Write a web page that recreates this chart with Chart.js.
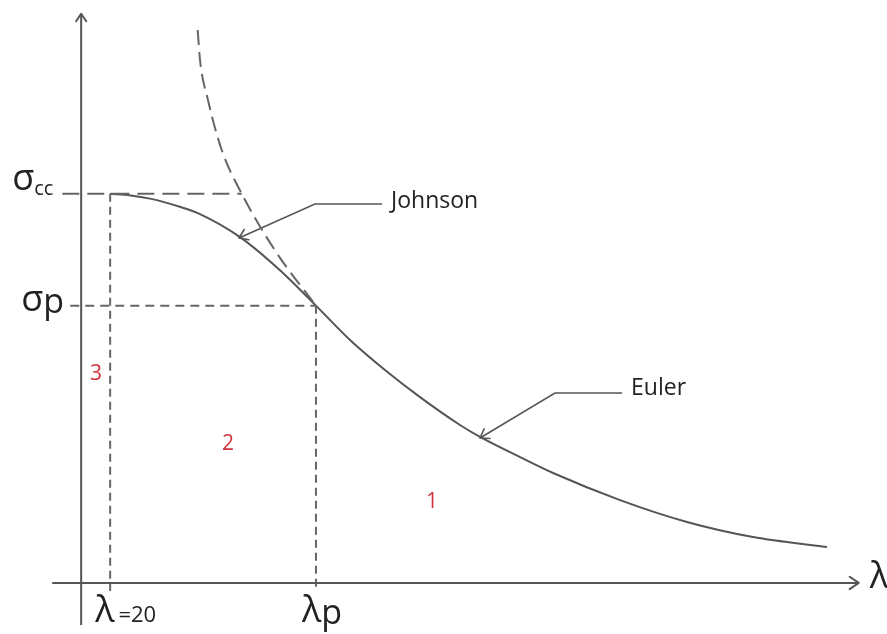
<!DOCTYPE html>
<html>
<head>
<meta charset="utf-8">
<script src="https://cdn.jsdelivr.net/npm/chart.js@4/dist/chart.umd.min.js"></script>
<style>
  html, body { margin: 0; padding: 0; background: #fff; }
  #wrap { width: 887px; height: 634px; }
</style>
</head>
<body>
<div id="wrap"><canvas id="c"></canvas></div>
<script>
// values: x = slenderness λ, y = stress σ
const sigmaCC = 240;
const sigmaP = 171;
const lambda20 = 20;
const lambdaP = 162;

// Johnson parabola (solid), λ20 -> λp
const johnsonLambda = [20, 34, 47.5, 68, 82, 109.6, 137, 162];
const johnsonSigma = [240, 239, 237, 232, 227.5, 213.3, 193, 171];

// Euler hyperbola (solid), λp -> end
const eulerLambda = [162, 185.5, 209.6, 233.8, 261.4, 275.2, 302.8, 325.6, 371.8, 418, 463.6, 514.6];
const eulerSigma = [171, 149.8, 131.3, 114.6, 97.4, 90, 77.6, 67.8, 51.1, 37.6, 28.3, 22.1];

// Euler curve continued above σp (dashed)
const eulerExtLambda = [80.4, 82, 87.5, 97, 110.8, 134.9, 162];
const eulerExtSigma = [341, 322.5, 297.8, 267, 240, 203.5, 171];

// view window and axis extents
const xMin = -56, xMax = 556, yMin = -31.5, yMax = 359.5;
const xAxisFrom = -20, xAxisTo = 536.5;
const yAxisFrom = -26, yAxisTo = 351;

const ink = '#555555';
const dashInk = '#666666';
const textInk = '#222222';
const red = '#d0343c';
const FONT = '"Open Sans", "DejaVu Sans", sans-serif';

function pts(xs, ys) {
    return xs.map((x, i) => ({ x, y: ys[i] }));
}

// leader lines for the two curve names
const johnsonLeader = [{ x: 207.6, y: 233.7 }, { x: 161.3, y: 233.7 }, { x: 108.9, y: 212.7 }];
const eulerLeader = [{ x: 373.2, y: 117.1 }, { x: 326.9, y: 117.1 }, { x: 275.2, y: 89.4 }];

const ccEnd = eulerExtLambda[eulerExtSigma.indexOf(sigmaCC)];

function line(data, opts = {}) {
    return Object.assign({
        data,
        showLine: true,
        borderColor: ink,
        borderWidth: 2,
        pointRadius: 0,
        fill: false,
        tension: 0,
    }, opts);
}

const datasets = [
    // axes
    line([{ x: xAxisFrom, y: 0 }, { x: xAxisTo, y: 0 }]),
    line([{ x: 0, y: yAxisFrom }, { x: 0, y: yAxisTo }]),
    // reference lines
    line([{ x: -13, y: sigmaCC }, { x: ccEnd, y: sigmaCC }], { borderColor: dashInk, borderDash: [17, 8] }),
    line([{ x: -7.5, y: sigmaP }, { x: lambdaP, y: sigmaP }], { borderColor: dashInk, borderDash: [9, 6] }),
    line([{ x: lambda20, y: sigmaCC }, { x: lambda20, y: -5 }], { borderColor: dashInk, borderDash: [8, 5] }),
    line([{ x: lambdaP, y: sigmaP }, { x: lambdaP, y: -5 }], { borderColor: dashInk, borderDash: [8, 5] }),
    // curves
    line(pts(eulerExtLambda, eulerExtSigma), { borderColor: dashInk, borderDash: [15, 7], cubicInterpolationMode: 'monotone' }),
    line(pts(johnsonLambda, johnsonSigma).concat(pts(eulerLambda, eulerSigma).slice(1)), { cubicInterpolationMode: 'monotone' }),
    // leaders
    line(johnsonLeader, { borderWidth: 1.6 }),
    line(eulerLeader, { borderWidth: 1.6 }),
];

// arrowheads: tip and the point the shaft comes from
const arrows = [
    { tip: { x: xAxisTo, y: 0 }, from: { x: xAxisFrom, y: 0 }, size: 11, w: 2 },
    { tip: { x: 0, y: yAxisTo }, from: { x: 0, y: yAxisFrom }, size: 9, w: 2 },
    { tip: johnsonLeader[2], from: johnsonLeader[1], size: 10, w: 1.6 },
    { tip: eulerLeader[2], from: eulerLeader[1], size: 10, w: 1.6 },
];

// text pieces: anchor in data units, offset in pixels
const texts = [
    { at: { x: 0, y: sigmaCC }, dx: -69, dy: -4, runs: [{ t: 'σ', s: 36 }, { t: 'cc', s: 20, dy: 5 }] },
    { at: { x: 0, y: sigmaP }, dx: -60, dy: 5, runs: [{ t: 'σ', s: 36 }, { t: 'p', s: 34, dy: 2 }] },
    { at: { x: xAxisTo, y: 0 }, dx: 11, dy: 5, runs: [{ t: 'λ', s: 36 }] },
    { at: { x: lambda20, y: 0 }, dx: -15, dy: 39, runs: [{ t: 'λ', s: 36 }, { t: '=20', s: 22, gap: 4 }] },
    { at: { x: lambdaP, y: 0 }, dx: -14, dy: 39, runs: [{ t: 'λ', s: 36 }, { t: 'p', s: 34, dy: 2 }] },
    { at: johnsonLeader[0], dx: 9, dy: 4, runs: [{ t: 'Johnson', s: 23 }] },
    { at: eulerLeader[0], dx: 9, dy: 2, runs: [{ t: 'Euler', s: 23 }] },
];

const regions = [
    { t: '3', x: 10.2, y: 128.8 },
    { t: '2', x: 101.3, y: 85.6 },
    { t: '1', x: 242.1, y: 49.9 },
];

const sketchPlugin = {
    id: 'sketch',
    afterDatasetsDraw(chart) {
        const { ctx } = chart;
        const X = v => chart.scales.x.getPixelForValue(v);
        const Y = v => chart.scales.y.getPixelForValue(v);
        ctx.save();

        ctx.strokeStyle = ink;
        ctx.lineCap = 'round';
        ctx.lineJoin = 'round';
        arrows.forEach(a => {
            const tx = X(a.tip.x), ty = Y(a.tip.y);
            const ang = Math.atan2(ty - Y(a.from.y), tx - X(a.from.x));
            const spread = 0.6;
            ctx.lineWidth = a.w;
            ctx.beginPath();
            ctx.moveTo(tx - a.size * Math.cos(ang - spread), ty - a.size * Math.sin(ang - spread));
            ctx.lineTo(tx, ty);
            ctx.lineTo(tx - a.size * Math.cos(ang + spread), ty - a.size * Math.sin(ang + spread));
            ctx.stroke();
        });

        ctx.fillStyle = textInk;
        ctx.textBaseline = 'alphabetic';
        ctx.textAlign = 'left';
        texts.forEach(item => {
            let cx = X(item.at.x) + item.dx;
            const by = Y(item.at.y) + item.dy;
            item.runs.forEach(r => {
                ctx.font = `${r.s}px ${FONT}`;
                cx += r.gap || 0;
                ctx.fillText(r.t, cx, by + (r.dy || 0));
                cx += ctx.measureText(r.t).width;
            });
        });

        ctx.fillStyle = red;
        ctx.textAlign = 'center';
        ctx.textBaseline = 'middle';
        ctx.font = `21px ${FONT}`;
        regions.forEach(r => ctx.fillText(r.t, X(r.x), Y(r.y)));

        ctx.restore();
    }
};

new Chart(document.getElementById('c'), {
    type: 'scatter',
    data: { datasets },
    options: {
        responsive: true,
        maintainAspectRatio: false,
        animation: false,
        events: [],
        layout: { padding: 0 },
        plugins: { legend: { display: false }, tooltip: { enabled: false } },
        scales: {
            x: { type: 'linear', min: xMin, max: xMax, display: false },
            y: { type: 'linear', min: yMin, max: yMax, display: false },
        },
    },
    plugins: [sketchPlugin],
});
</script>
</body>
</html>
